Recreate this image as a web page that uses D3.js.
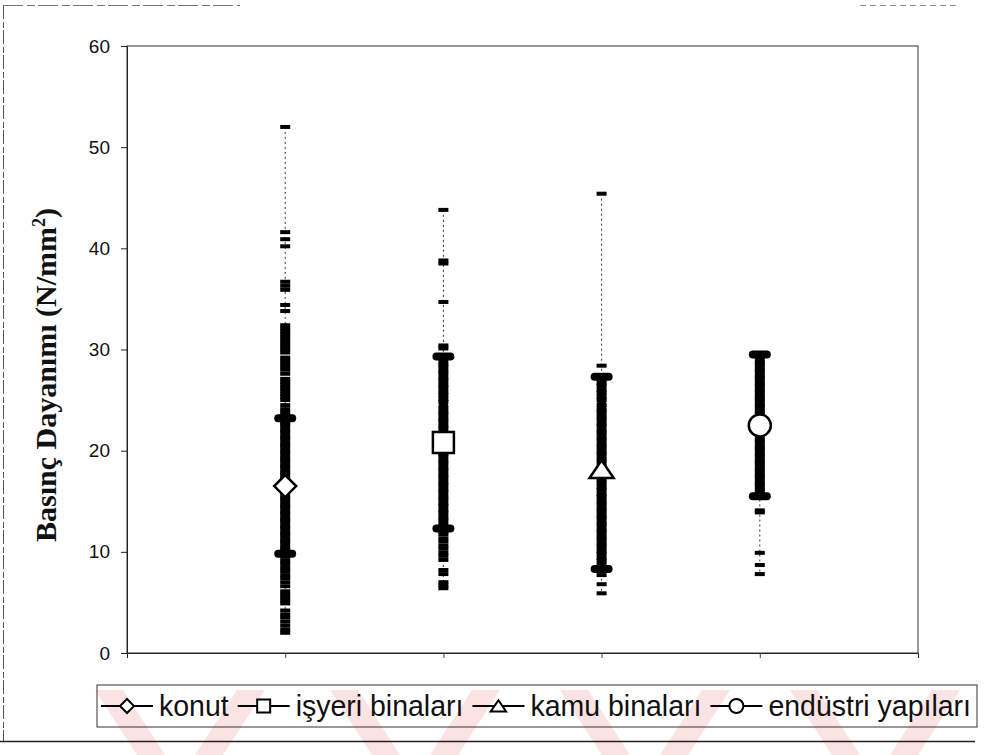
<!DOCTYPE html>
<html>
<head>
<meta charset="utf-8">
<script src="https://cdn.jsdelivr.net/npm/d3@7/dist/d3.min.js"></script>
<style>
  html, body { margin: 0; padding: 0; background: #fff; }
  svg { display: block; }
</style>
</head>
<body>
<svg id="chart" width="994" height="755"></svg>
<script>
// Categories (building types) and their legend labels
const categories = ["konut", "işyeri binaları", "kamu binaları", "endüstri yapıları"];
const markerShapes = ["diamond", "square", "triangle", "circle"];

// Individual compressive strength results (N/mm²) for each building type
const konutValues = [52.0, 41.6, 40.9, 40.2, 36.7, 36.3, 35.9, 34.4, 33.8,
  32.4, 32.1, 31.8, 31.5, 31.2, 30.9, 30.6, 30.3, 30.0, 29.7, 29.2, 28.9, 28.6, 28.3, 28.0, 27.6,
  27.1, 26.8, 26.5, 26.2, 25.9, 25.6, 25.3, 25.0, 24.5, 24.1, 23.8, 23.5, 23.2, 22.8, 22.5, 22.1,
  21.8, 21.4, 21.1, 20.7, 20.4, 20.0, 19.7, 19.3, 19.0, 18.6, 18.3, 17.9, 17.6, 17.2, 16.9, 16.5,
  16.1, 15.8, 15.4, 15.1, 14.7, 14.4, 14.0, 13.7, 13.3, 13.0, 12.6, 12.3, 11.9, 11.6, 11.2, 10.9,
  10.5, 10.2, 9.8, 9.5, 9.1, 8.8, 8.4, 8.1, 7.7, 7.4, 7.0, 6.6, 6.1, 5.8, 5.5, 5.2, 4.9,
  4.2, 3.8, 3.5, 3.1, 2.7, 2.3, 2.0];
const isyeriValues = [43.8, 38.8, 38.5, 34.7, 30.4, 30.1,
  29.3, 29.0, 28.6, 28.3, 27.9, 27.6, 27.2, 26.9, 26.5, 26.2, 25.8, 25.5, 25.1, 24.8, 24.3,
  23.9, 23.6, 23.2, 22.9, 22.5, 22.2, 21.8, 21.5, 21.1, 20.8, 20.4, 20.1, 19.7, 19.4, 19.0,
  18.7, 18.3, 18.0, 17.6, 17.3, 16.9, 16.6, 16.2, 15.9, 15.5, 15.2, 14.8, 14.5, 14.1, 13.8,
  13.4, 13.1, 12.7, 12.4, 12.0, 11.7, 11.3, 11.0, 10.6, 10.3, 9.9, 9.6, 9.2,
  8.2, 7.8, 7.0, 6.7, 6.4];
const kamuValues = [45.4, 28.4,
  27.4, 27.1, 26.7, 26.4, 26.0, 25.7, 25.3, 25.0, 24.5, 24.1, 23.8, 23.4, 23.1, 22.7, 22.4,
  22.0, 21.7, 21.3, 21.0, 20.6, 20.3, 19.9, 19.6, 19.2, 18.9, 18.5, 18.2, 17.8, 17.5, 17.1,
  16.8, 16.4, 16.1, 15.7, 15.4, 15.0, 14.7, 14.3, 14.0, 13.6, 13.3, 12.9, 12.6, 12.2, 11.9,
  11.5, 11.2, 10.8, 10.5, 10.1, 9.8, 9.4, 9.1, 8.7, 8.4,
  7.7, 6.8, 5.9];
const endustriValues = [29.5, 29.2, 28.8, 28.5, 28.1, 27.8, 27.4, 27.1, 26.7, 26.4, 26.0,
  25.7, 25.3, 25.0, 24.6, 24.3, 23.9, 23.6, 23.2, 22.9, 22.5, 22.2, 21.8, 21.5, 21.1, 20.8,
  20.4, 20.1, 19.7, 19.4, 19.0, 18.7, 18.3, 18.0, 17.6, 17.3, 16.9, 16.6, 16.2, 15.9, 15.5,
  14.1, 13.9, 9.9, 8.7, 7.8];
const seriesValues = [konutValues, isyeriValues, kamuValues, endustriValues];

// Mean strength and standard deviation for each building type
const means = [16.5, 20.8, 17.8, 22.5];
const stdDevs = [6.7, 8.5, 9.5, 7.0];

// Value axis
const yTicks = [0, 10, 20, 30, 40, 50, 60];
const yTitle = "Basınç Dayanımı (N/mm";

const svg = d3.select("#chart");
const plot = { left: 127, right: 918, top: 46, bottom: 653 };

const x = d3.scaleLinear().domain([0, 5]).range([plot.left, plot.right]);
const y = d3.scaleLinear().domain([0, 60]).range([plot.bottom, plot.top]);

// Faint pink watermark stripes along the bottom edge
const wm = svg.append("g").attr("fill", "#fbe3e3");
const vStarts = [95, 330, 560, 790];
vStarts.forEach(s => {
  wm.append("polygon").attr("points",
    `${s},690 ${s + 28},690 ${s + 70},755 ${s + 42},755`);
  wm.append("polygon").attr("points",
    `${s + 100},755 ${s + 128},755 ${s + 170},690 ${s + 142},690`);
});

// Outer chart border: dashed left and top, solid bottom
const border = svg.append("g").attr("fill", "none").attr("stroke-width", 1);
border.append("line").attr("x1", 3.5).attr("x2", 3.5).attr("y1", 5).attr("y2", 741)
  .attr("stroke", "#555").attr("stroke-dasharray", "14,3,6,2");
border.append("line").attr("x1", 3).attr("x2", 240).attr("y1", 5.5).attr("y2", 5.5)
  .attr("stroke", "#777").attr("stroke-dasharray", "20,4,8,3");
border.append("line").attr("x1", 860).attr("x2", 958).attr("y1", 5.5).attr("y2", 5.5)
  .attr("stroke", "#888").attr("stroke-dasharray", "6,4");
border.append("line").attr("x1", 0).attr("x2", 975).attr("y1", 741.5).attr("y2", 741.5)
  .attr("stroke", "#222").attr("stroke-width", 1.5);

// Plot area frame
svg.append("rect")
  .attr("x", plot.left).attr("y", plot.top)
  .attr("width", plot.right - plot.left).attr("height", plot.bottom - plot.top)
  .attr("fill", "none").attr("stroke", "#333").attr("stroke-width", 1);

// Y axis
const yAxis = d3.axisLeft(y).tickValues(yTicks).tickSize(6).tickPadding(11);
const gy = svg.append("g").attr("transform", `translate(${plot.left},0)`).call(yAxis);
gy.select(".domain").attr("stroke", "#222");
gy.selectAll(".tick line").attr("stroke", "#222");
gy.selectAll(".tick text")
  .attr("font-family", "Arial, 'Liberation Sans', sans-serif")
  .attr("font-size", 19).attr("fill", "#111");

// X axis (categories sit at 1..4, no labels)
const xAxis = d3.axisBottom(x).tickValues([1, 2, 3, 4]).tickSize(5).tickFormat("");
const gx = svg.append("g").attr("transform", `translate(0,${plot.bottom})`).call(xAxis);
gx.select(".domain").attr("stroke", "#222");
gx.selectAll(".tick line").attr("stroke", "#444");

// Y axis title
const title = svg.append("text")
  .attr("transform", `translate(56,375) rotate(-90)`)
  .attr("text-anchor", "middle")
  .attr("font-family", "'Liberation Serif', 'Times New Roman', serif")
  .attr("font-weight", "bold").attr("font-size", 30).attr("fill", "#111");
title.append("tspan").text(yTitle);
title.append("tspan").attr("dy", -11).attr("font-size", 18).text("2");
title.append("tspan").attr("dy", 11).text(")");

// Marker path generator
function markerPath(shape, r) {
  if (shape === "diamond") return `M0,${-r}L${r},0L0,${r}L${-r},0Z`;
  if (shape === "square") return `M${-r},${-r}H${r}V${r}H${-r}Z`;
  if (shape === "triangle") {
    const h = r * 1.6;
    return `M0,${-h * 0.6}L${r * 1.1},${h * 0.4}L${-r * 1.1},${h * 0.4}Z`;
  }
  return d3.arc()({ innerRadius: 0, outerRadius: r, startAngle: 0, endAngle: 2 * Math.PI });
}

// Per category: connecting line, sample dashes, error bar caps, mean marker
const groups = svg.selectAll("g.series").data(categories).join("g").attr("class", "series");

groups.each(function (cat, i) {
  const g = d3.select(this);
  const cx = x(i + 1);
  const vals = seriesValues[i];
  const lo = d3.min(vals), hi = d3.max(vals);

  g.append("line")
    .attr("x1", cx).attr("x2", cx).attr("y1", y(hi)).attr("y2", y(lo))
    .attr("stroke", "#333").attr("stroke-width", 1).attr("stroke-dasharray", "2,3");

  g.selectAll("rect.pt").data(vals).join("rect").attr("class", "pt")
    .attr("x", cx - 5).attr("width", 10)
    .attr("y", d => y(d) - 2).attr("height", 4)
    .attr("fill", "#000");

  // error bar: thick vertical and rounded caps at mean ± sd
  const top = means[i] + stdDevs[i], bot = means[i] - stdDevs[i];
  g.append("line")
    .attr("x1", cx).attr("x2", cx).attr("y1", y(top)).attr("y2", y(bot))
    .attr("stroke", "#000").attr("stroke-width", 9);
  [top, bot].forEach(v => {
    g.append("line")
      .attr("x1", cx - 7).attr("x2", cx + 7).attr("y1", y(v)).attr("y2", y(v))
      .attr("stroke", "#000").attr("stroke-width", 8).attr("stroke-linecap", "round");
  });

  const r = markerShapes[i] === "square" ? 10.5 : 11;
  g.append("path")
    .attr("transform", `translate(${cx},${y(means[i]) + (markerShapes[i] === "triangle" ? -2 : 0)})`)
    .attr("d", markerPath(markerShapes[i], r))
    .attr("fill", "#fff").attr("stroke", "#000").attr("stroke-width", 2.5);
});

// Legend
const legend = { left: 97, right: 977, top: 685, bottom: 727 };
svg.append("rect")
  .attr("x", legend.left).attr("y", legend.top)
  .attr("width", legend.right - legend.left).attr("height", legend.bottom - legend.top)
  .attr("fill", "none").attr("stroke", "#333").attr("stroke-width", 1);

const lg = svg.append("g");
const lineLen = 52, gapAfterLine = 6, gapAfterText = 9, padL = 4, padR = 6;
const ly = (legend.top + legend.bottom) / 2;
const texts = categories.map(c => lg.append("text")
  .attr("font-family", "'Liberation Sans Narrow', 'Arial Narrow', 'Liberation Sans', Arial, sans-serif")
  .attr("font-size", 29).attr("fill", "#111").attr("y", ly + 10).text(c));
const natural = texts.map(t => t.node().getComputedTextLength());
const fixed = padL + padR + categories.length * (lineLen + gapAfterLine) + (categories.length - 1) * gapAfterText;
const k = (legend.right - legend.left - fixed) / d3.sum(natural);
let cur = legend.left + padL;
categories.forEach((c, i) => {
  lg.append("line")
    .attr("x1", cur).attr("x2", cur + lineLen).attr("y1", ly).attr("y2", ly)
    .attr("stroke", "#000").attr("stroke-width", 2);
  lg.append("path")
    .attr("transform", `translate(${cur + lineLen / 2},${ly + (markerShapes[i] === "triangle" ? 1 : 0)})`)
    .attr("d", markerPath(markerShapes[i], markerShapes[i] === "square" ? 6.5 : 7))
    .attr("fill", "#fff").attr("stroke", "#000").attr("stroke-width", 2);
  cur += lineLen + gapAfterLine;
  const w = natural[i] * k;
  texts[i].attr("x", cur).attr("textLength", w).attr("lengthAdjust", "spacingAndGlyphs");
  cur += w + gapAfterText;
});
</script>
</body>
</html>
